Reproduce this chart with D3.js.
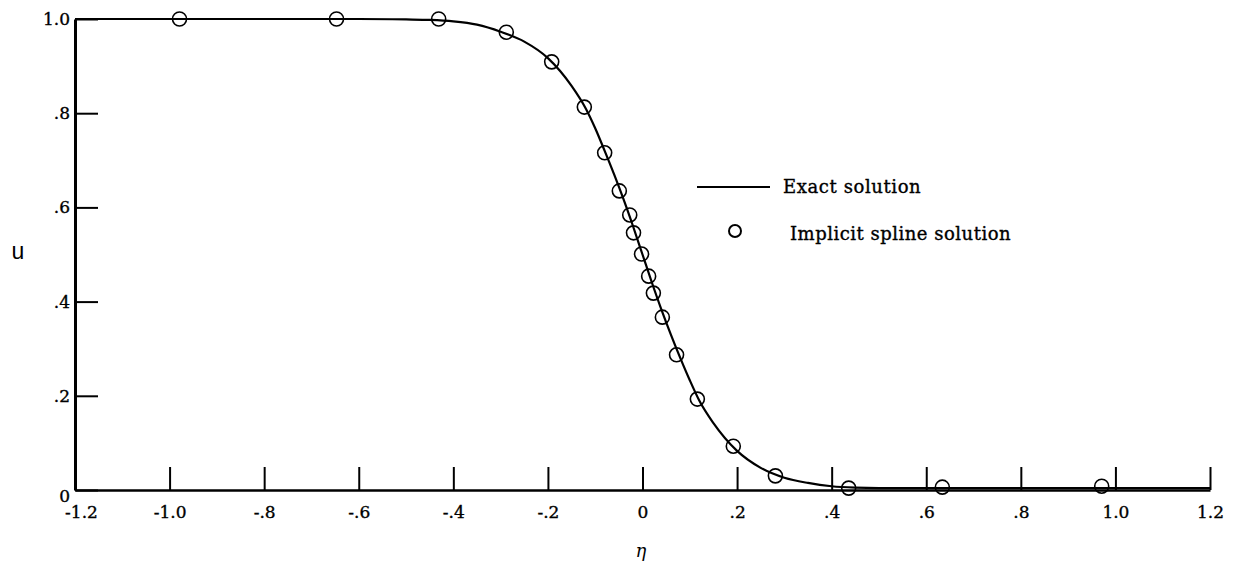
<!DOCTYPE html>
<html>
<head>
<meta charset="utf-8">
<script src="https://cdn.jsdelivr.net/npm/d3@7"></script>
<style>
  html, body { margin: 0; padding: 0; background: #fff; }
  svg { display: block; }
</style>
</head>
<body>
<svg id="chart" width="1238" height="565"></svg>
<script>
// ---- Data ----
const xTickValues = [-1.2, -1.0, -0.8, -0.6, -0.4, -0.2, 0, 0.2, 0.4, 0.6, 0.8, 1.0, 1.2];
const xTickLabels = ["-1.2", "-1.0", "-.8", "-.6", "-.4", "-.2", "0", ".2", ".4", ".6", ".8", "1.0", "1.2"];
const yTickValues = [0, 0.2, 0.4, 0.6, 0.8, 1.0];
const yTickLabels = ["0", ".2", ".4", ".6", ".8", "1.0"];

// Exact solution curve (eta, u)
const exactEta = [-1.2, -0.6, -0.5, -0.45, -0.4, -0.35, -0.3, -0.25, -0.2, -0.15, -0.12, -0.1, -0.08, -0.06, -0.04, -0.02, 0, 0.02, 0.04, 0.06, 0.08, 0.1, 0.12, 0.15, 0.2, 0.25, 0.3, 0.35, 0.4, 0.45, 0.5, 0.7, 1.2];
const exactU   = [1.0, 1.0, 0.999, 0.998, 0.995, 0.988, 0.973, 0.952, 0.917, 0.858, 0.81, 0.768, 0.72, 0.67, 0.617, 0.56, 0.5, 0.44, 0.383, 0.33, 0.28, 0.233, 0.19, 0.142, 0.083, 0.047, 0.026, 0.015, 0.008, 0.005, 0.004, 0.004, 0.004];

// Implicit spline solution points (eta, u)
const splineEta = [-0.979, -0.647, -0.431, -0.288, -0.192, -0.123, -0.080, -0.049, -0.027, -0.019, -0.002, 0.013, 0.023, 0.042, 0.072, 0.116, 0.192, 0.281, 0.436, 0.634, 0.971];
const splineU   = [1.0, 1.0, 1.0, 0.972, 0.909, 0.813, 0.716, 0.635, 0.584, 0.546, 0.501, 0.454, 0.418, 0.367, 0.287, 0.193, 0.093, 0.030, 0.004, 0.006, 0.008];

const legendLabels = ["Exact solution", "Implicit spline solution"];
const xLabel = "\u03B7";
const yLabel = "u";

// ---- Layout ----
const svg = d3.select("#chart");
const x = d3.scaleLinear().domain([-1.2, 1.2]).range([75, 1210]);
const y = d3.scaleLinear().domain([0, 1]).range([490, 19]);

const serif = "'DejaVu Serif', 'Liberation Serif', serif";

function heavy(sel, size) {
  sel.attr("font-family", serif).attr("font-size", size)
     .attr("fill", "#000").attr("stroke", "#000").attr("stroke-width", 0.35);
}

// X axis (ticks pointing up, inward)
const xAxis = d3.axisBottom(x)
  .tickValues(xTickValues)
  .tickSizeInner(-23)
  .tickSizeOuter(0)
  .tickPadding(16)
  .tickFormat((d, i) => xTickLabels[i]);

const gx = svg.append("g")
  .attr("transform", `translate(0,${y(0)})`)
  .call(xAxis);
gx.select(".domain").attr("stroke", "#000").attr("stroke-width", 2.4);
gx.selectAll(".tick line").attr("stroke", "#000").attr("stroke-width", 2);
gx.selectAll(".tick text").call(heavy, 17);
gx.selectAll(".tick text").filter((d, i) => i === 0).attr("dx", 6);

// Y axis (ticks pointing right, inward)
const yAxis = d3.axisLeft(y)
  .tickValues(yTickValues)
  .tickSizeInner(-23)
  .tickSizeOuter(0)
  .tickPadding(5)
  .tickFormat((d, i) => yTickLabels[i]);

const gy = svg.append("g")
  .attr("transform", `translate(${x(-1.2)},0)`)
  .call(yAxis);
gy.select(".domain").attr("stroke", "#000").attr("stroke-width", 3);
gy.selectAll(".tick line").attr("stroke", "#000").attr("stroke-width", 2);
gy.selectAll(".tick text").call(heavy, 17);
gy.selectAll(".tick text").filter((d, i) => i === 0).attr("dy", "0.7em");

// Exact solution line
const exactData = exactEta.map((e, i) => ({ e, u: exactU[i] }));
const line = d3.line().x(d => x(d.e)).y(d => y(d.u)).curve(d3.curveMonotoneX);
svg.append("path")
  .datum(exactData)
  .attr("d", line)
  .attr("fill", "none")
  .attr("stroke", "#000")
  .attr("stroke-width", 2.2);

// Spline solution circles
const splineData = splineEta.map((e, i) => ({ e, u: splineU[i] }));
svg.append("g").selectAll("circle")
  .data(splineData)
  .join("circle")
  .attr("cx", d => x(d.e))
  .attr("cy", d => y(d.u))
  .attr("r", 7)
  .attr("fill", "none")
  .attr("stroke", "#000")
  .attr("stroke-width", 1.6);

// Legend
const lg = svg.append("g");
lg.append("line")
  .attr("x1", 697).attr("x2", 770).attr("y1", 187).attr("y2", 187)
  .attr("stroke", "#000").attr("stroke-width", 2);
lg.append("text")
  .attr("x", 783).attr("y", 193)
  .attr("letter-spacing", 0.6)
  .call(heavy, 18)
  .text(legendLabels[0]);
lg.append("circle")
  .attr("cx", 735).attr("cy", 231).attr("r", 6)
  .attr("fill", "none").attr("stroke", "#000").attr("stroke-width", 2);
lg.append("text")
  .attr("x", 790).attr("y", 240)
  .attr("letter-spacing", 0.5)
  .call(heavy, 18)
  .text(legendLabels[1]);

// Axis titles
svg.append("text")
  .attr("x", 641).attr("y", 557)
  .attr("text-anchor", "middle")
  .attr("font-family", serif).attr("font-style", "italic").attr("font-size", 18)
  .attr("fill", "#000")
  .text(xLabel);
svg.append("text")
  .attr("x", 18).attr("y", 259)
  .attr("text-anchor", "middle")
  .attr("font-family", "'Liberation Sans', Arial, sans-serif").attr("font-size", 23)
  .attr("fill", "#000")
  .text(yLabel);
</script>
</body>
</html>
